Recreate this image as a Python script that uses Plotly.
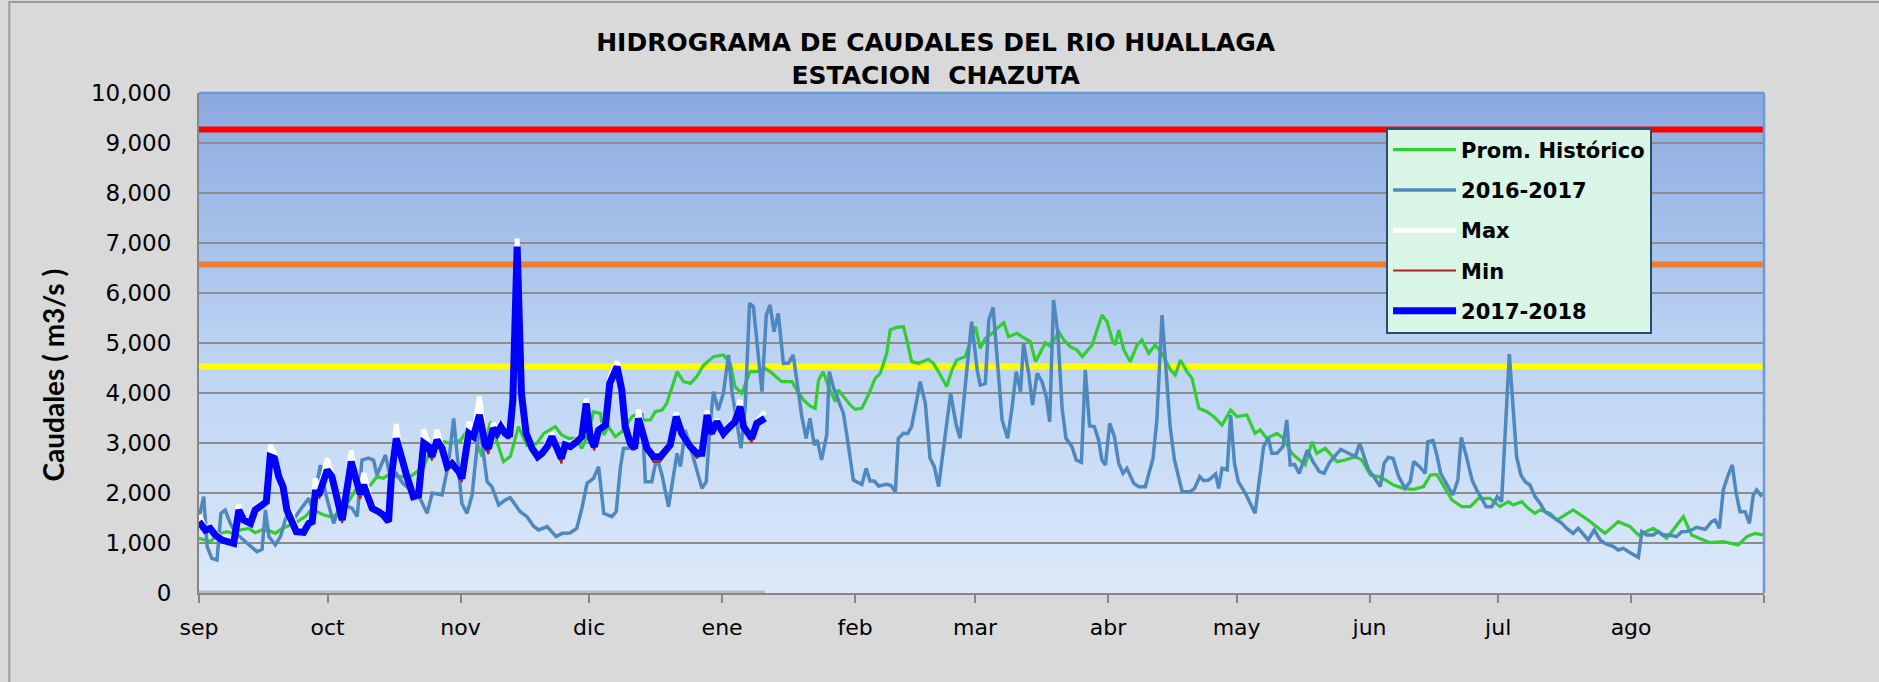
import plotly.graph_objects as go

# ---------------- data ----------------
month_labels = ["sep", "oct", "nov", "dic", "ene", "feb", "mar", "abr", "may", "jun", "jul", "ago", ""]
month_start_day = [0, 30, 61, 91, 122, 153, 181, 212, 242, 273, 303, 334, 365]

threshold_levels = [9270, 6570, 4530]
threshold_colors = ["#FF0000", "#ED7D31", "#FFFF00"]
year_days = [0, 365]

# 2017-2018 (current year)
cur_days = [0, 1.5, 2.6, 3.8, 5.4, 8.1, 9.3, 10.4, 12, 13.1,
            14.7, 15.7, 16.6, 17.6, 18.6, 19.6, 20.5, 21.7, 22.7, 24.4,
            25.6, 26.4, 27.1, 28.1, 29.9, 31, 33.4, 35.5, 36.9, 37.6,
            38.4, 40.4, 41.9, 43, 44.2, 44.9, 46, 47, 48.5, 50,
            51.2, 52.4, 53.6, 54.3, 55.5, 56.7, 57.9, 59, 60.6, 61.3,
            62.9, 64, 65.4, 66.8, 67.5, 68.6, 69.5, 70.4, 71.4, 72.4,
            73.2, 74.2, 75.2, 76.3, 77.7, 79, 80, 81.2, 82.3, 83.5,
            84.5, 85.4, 86.6, 88.1, 89.3, 90.3, 91.3, 92.2, 93.2, 94.8,
            95.8, 97.5, 98.6, 99.4, 100.6, 101.6, 102.5, 103.5, 104.5, 106,
            107.6, 109.9, 111.3, 112.6, 114.6, 116.1, 117.3, 118.5, 119.5, 120.8,
            122.3, 123.5, 125, 126.2, 127, 128.9, 130.1, 132]
cur_vals = [1427, 1260, 1293, 1160, 1060, 993, 1660, 1460, 1393, 1660,
            1760, 1827, 2727, 2693, 2327, 2127, 1660, 1460, 1227, 1213,
            1393, 1427, 2000, 2000, 2460, 2327, 1460, 2627, 2100, 1980,
            2160, 1693, 1627, 1560, 1427, 2360, 3093, 2727, 2327, 1927,
            1960, 3000, 2927, 2727, 3060, 2893, 2527, 2593, 2427, 2293,
            3193, 3127, 3560, 2960, 2893, 3293, 3193, 3327, 3193, 3127,
            3860, 6927, 3993, 3193, 2893, 2727, 2793, 2927, 3127, 2893,
            2693, 2960, 2927, 3027, 3127, 3793, 3093, 2927, 3260, 3360,
            4193, 4527, 4060, 3327, 2993, 2893, 3493, 3193, 2893, 2727,
            2727, 2960, 3527, 3193, 2927, 2793, 2793, 3560, 3193, 3427,
            3193, 3300, 3427, 3727, 3327, 3093, 3393, 3493]
max_vals = [1560, 1300, 1340, 1200, 1100, 1030, 1770, 1500, 1430, 1700,
            1800, 1870, 2960, 2800, 2370, 2170, 1700, 1560, 1270, 1250,
            1430, 1470, 2290, 2040, 2690, 2370, 1500, 2850, 2140, 2020,
            2400, 1730, 1670, 1600, 1470, 2400, 3380, 2770, 2370, 1970,
            2000, 3270, 2970, 2770, 3260, 2930, 2570, 2630, 2470, 2330,
            3430, 3170, 3930, 3000, 2930, 3400, 3230, 3420, 3230, 3170,
            3900, 7090, 4030, 3230, 2930, 2770, 2830, 3000, 3200, 2930,
            2730, 3000, 2970, 3070, 3170, 3890, 3130, 2970, 3300, 3400,
            4300, 4630, 4100, 3370, 3030, 2930, 3670, 3230, 2930, 2770,
            2770, 3000, 3600, 3230, 2970, 2830, 2830, 3650, 3230, 3470,
            3230, 3340, 3470, 3860, 3370, 3130, 3430, 3630]
min_vals = [1400, 1230, 1260, 1130, 1030, 960, 1630, 1430, 1360, 1630,
            1730, 1800, 2700, 2660, 2250, 2050, 1630, 1430, 1200, 1180,
            1360, 1400, 1970, 1900, 2430, 2250, 1400, 2600, 2050, 1880,
            2130, 1660, 1600, 1530, 1400, 2330, 3060, 2700, 2300, 1900,
            1930, 2970, 2900, 2650, 3030, 2860, 2450, 2560, 2400, 2220,
            3160, 3100, 3530, 2900, 2780, 3260, 3160, 3300, 3160, 3100,
            3830, 6900, 3960, 3160, 2860, 2690, 2760, 2900, 3100, 2860,
            2590, 2930, 2900, 3000, 3100, 3760, 3060, 2850, 3230, 3330,
            4160, 4500, 4030, 3300, 2960, 2860, 3460, 3160, 2860, 2620,
            2630, 2930, 3500, 3160, 2900, 2700, 2760, 3530, 3160, 3400,
            3100, 3270, 3400, 3700, 3300, 3010, 3360, 3460]
base_vals = [0] * len(cur_days)

# Prom. Histórico
hist_days = [0, 1.5, 2.6, 5, 6.5, 8.1, 9.6, 11.6, 13.1, 14.7, 16.3, 17.8, 19.4, 21.3, 22.9, 24.8, 26.4,
             27.5, 29.1, 30.6, 32.2, 33.7, 34.9, 36.5, 37.6, 40, 41.5, 43, 44.6, 46.2, 49.3, 52.4, 54,
             57.1, 58.6, 61, 63.3, 66, 68, 71, 72.6, 74.5, 76.5, 78.8, 80.4, 83.1, 84.6, 86.2, 87.8,
             89.3, 90.9, 92, 93.6, 94.4, 95.5, 97.1, 98.6, 101, 102.5, 103.7, 105.3, 106.4, 108, 109.1,
             111.5, 113, 114.6, 116.1, 117.7, 120, 122.3, 123.9, 125, 126.6, 128.5, 130.1, 132, 133.2,
             135.9, 138.3, 139.4, 141, 142.5, 143.7, 144.5, 145.6, 146.8, 148.4, 149.1, 151.9, 153, 154.6,
             156.1, 157.7, 158.9, 160.4, 161.2, 162.7, 164.3, 165.1, 166.2, 167.8, 170.1, 171.3, 172.9,
             174.4, 175.6, 176.7, 178.7, 181.1, 182.2, 183.4, 185, 186.1, 187.7, 188.8, 190.8, 191.9,
             193.9, 195.1, 197.4, 198.6, 200.5, 201.7, 203.2, 204.8, 206, 208.3, 210.6, 211.8, 213, 213.7,
             214.5, 215.7, 217.2, 218.8, 219.9, 221.5, 223, 224.6, 226.6, 227.7, 228.9, 230.4, 231.6,
             233.2, 235.1, 236.7, 238.6, 240.6, 242.1, 244.4, 246.3, 247.5, 249, 251.4, 252.9, 254.9,
             258, 259.6, 260.7, 262.7, 265.4, 267.3, 269.7, 271.2, 273.2, 275.1, 276.7, 278.6, 280.9,
             283.3, 285.6, 287.2, 288.7, 290.3, 292.2, 294.5, 296.5, 298.4, 301.1, 303.4, 305.4, 306.5,
             308.5, 310, 311.6, 312.8, 315.1, 316.7, 320.5, 324, 327.9, 331, 333.8, 335.7, 339.2, 342.3,
             344.6, 346.2, 348.1, 350.1, 352.4, 355.5, 357.1, 359, 361, 362.9, 364.9]
hist_vals = [1093, 1060, 1030, 1193, 1227, 1193, 1260, 1293, 1207, 1260, 1247, 1193, 1290, 1360, 1427, 1527, 1693,
             1627, 1560, 1527, 1560, 1660, 1827, 2060, 2127, 2160, 2327, 2293, 2393, 2327, 2327, 2527, 2860,
             3027, 2993, 3050, 3350, 2727, 3427, 2627, 2727, 3327, 2950, 2993, 3193, 3327, 3160, 3093, 3093,
             2893, 3193, 3627, 3593, 3160, 3327, 3127, 3227, 3527, 3593, 3460, 3460, 3627, 3660, 3793,
             4427, 4227, 4193, 4327, 4560, 4727, 4760, 4593, 4127, 3993, 4427, 4427, 4493, 4427,
             4227, 4227, 4060, 3860, 3740, 3693, 4260, 4427, 4127, 3827, 4060, 3760, 3673, 3693,
             3960, 4293, 4393, 4793, 5260, 5313, 5327, 5060, 4627, 4593, 4673, 4593, 4360,
             4127, 4460, 4660, 4727, 5327, 4893, 5093, 5193, 5293, 5407, 5127, 5193, 5127,
             5027, 4627, 5007, 4927, 5227, 5060, 4927, 4860, 4727, 4960, 5560, 5427, 5060, 4960,
             5260, 4860, 4627, 4960, 5060, 4793, 4960, 4793, 4460, 4360, 4660, 4427, 4293,
             3693, 3627, 3527, 3360, 3660, 3527, 3560, 3193, 3260, 3093, 3193, 3093, 2793,
             2560, 3027, 2793, 2893, 2627, 2660, 2727, 2660, 2360, 2327, 2260, 2160, 2093,
             2073, 2127, 2360, 2373, 2127, 1860, 1727, 1727, 1893, 1893, 1727, 1827, 1760,
             1827, 1693, 1593, 1660, 1593, 1460, 1660, 1460, 1193, 1427, 1327, 1160, 1293, 1093,
             1360, 1527, 1160, 1093, 1007, 1027, 993, 960, 1127, 1193, 1160]

# 2016-2017
prev_days = [0, 1.1, 1.9, 3, 4.2, 5.1, 6.1, 7.3, 8.5, 10.4, 12, 13.5, 14.7, 15.5, 16.3, 17.8, 19, 20.1,
             20.9, 22.2, 23.3, 25.6, 26.4, 28.3, 29.5, 31.4, 33, 34.5, 35.7, 36.9, 38, 39.5, 40.7, 41.5,
             43.5, 44.6, 46, 47.5, 49.5, 51.5, 53.2, 54.4, 56.7, 58.2, 59.4, 61.3, 62.5, 63.7, 65.4, 67.2,
             68.3, 69.9, 71.4, 72.6, 74.9, 76.5, 78, 79.2, 81.2, 83.3, 84.7, 86.5, 88.1, 89.3, 90.5, 92,
             93.2, 94.4, 96.3, 97.3, 98.3, 99, 101, 103.3, 104.1, 105.6, 106.8, 108, 109.5, 111.5, 112.3,
             113.4, 114.5, 115.8, 117.3, 118.3, 119.3, 120, 121.1, 122.3, 123.5, 124.3, 126.4, 127.4,
             128.4, 129.3, 131.3, 132.3, 133.2, 134.1, 135.1, 136.3, 137.5, 138.6, 139.8, 140.6, 141.6,
             142.5, 143.5, 144.2, 145.2, 146.4, 147, 148, 149.1, 150.3, 151.5, 152.6, 154.6, 155.6, 156.5,
             157.5, 158.5, 160.4, 161.4, 162.4, 163.1, 164.3, 165.3, 166.2, 167.4, 168.2, 169.4, 170.5,
             171.5, 172.5, 173.8, 175.3, 176.6, 177.5, 178.7, 180.2, 181.5, 182.2, 183.4, 184.2, 185.2,
             186.2, 187.3, 188.6, 189.6, 190.6, 191.6, 192.3, 193.5, 194.4, 195.5, 196.6, 197.6, 198.4,
             199.3, 200.3, 201.3, 202.2, 203.6, 204.6, 205.8, 206.7, 207.7, 208.8, 209.8, 210.6, 211.4,
             212.4, 213.5, 214.5, 215.5, 216.4, 218, 219.2, 220.7, 222.5, 223.4, 224.6, 225.8, 226.5,
             227.5, 229.3, 231.2, 232.2, 233.4, 234.3, 235.5, 237.1, 237.8, 238.6, 239.8, 240.6, 241.5,
             242.4, 244, 246.3, 248.3, 249.4, 250.2, 251.4, 252.8, 253.7, 254.5, 255.5, 256.6, 258.5,
             259.8, 261.3, 262.4, 263.6, 264.8, 266.3, 268, 269.7, 270.7, 271.8, 272.8, 274, 275.5,
             276.4, 277.4, 278.5, 279.8, 281.3, 282.5, 283.3, 284.7, 286, 286.6, 287.8, 288.7, 289.6,
             291, 292.4, 293.6, 294.4, 295.6, 296.9, 298, 299.2, 300.2, 301.5, 302.8, 303.8, 305.6,
             307.3, 308.3, 309.3, 310.4, 311.6, 312.8, 313.9, 315.1, 316.7, 317.8, 319, 320.5, 321.7,
             323, 324, 325.4, 326.8, 327.9, 329.9, 331, 332.2, 333.4, 335.7, 336.5, 337.6, 339.2, 340.3,
             341.5, 343, 344.6, 345.8, 347, 348.1, 349.3, 351.3, 352.8, 353.6, 354.6, 355.5, 356.6,
             357.6, 358.5, 359.4, 360.6, 361.6, 362.5, 363.3, 364.5]
prev_vals = [1500, 1927, 927, 693, 660, 1593, 1660, 1393, 1200, 1060, 960, 827, 873, 1660, 1127, 960, 1127, 1460,
             1600, 1480, 1627, 1893, 1693, 2560, 2000, 1393, 1800, 1750, 1693, 1527, 2660, 2700, 2660, 2360,
             2760, 2327, 2393, 2200, 2050, 1900, 1593, 2000, 1960, 2593, 3493, 1793, 1593, 1960, 3400, 2227,
             2127, 1760, 1860, 1907, 1627, 1527, 1340, 1260, 1327, 1127, 1193, 1200, 1293, 1693, 2193, 2293,
             2527, 1593, 1527, 1627, 2527, 2893, 2900, 3593, 2227, 2227, 2727, 2350, 1727, 2793, 2527,
             3260, 2950, 2527, 2093, 2227, 3460, 4027, 3660, 3993, 4760, 4027, 2893, 3727,
             5793, 5727, 4027, 5560, 5760, 5227, 5593, 4593, 4600, 4760, 4027, 3527, 3093,
             3493, 2960, 3060, 2660, 3160, 4427, 4100, 3860, 3593, 2927, 2260, 2173, 2493, 2240,
             2240, 2140, 2173, 2150, 2027, 3093, 3193, 3190, 3327, 3860, 4227, 3793, 2693,
             2527, 2127, 3000, 3993, 3360, 3093, 4127, 5427, 4460, 4160, 4193, 5460, 5713,
             4600, 3460, 3093, 3693, 4427, 4027, 4993, 4393, 3760, 4393, 4227, 3927, 3427,
             5860, 5193, 3693, 3093, 2927, 2660, 2613, 4460, 3340, 3330, 3060, 2660, 2560,
             3393, 3127, 2593, 2393, 2493, 2193, 2127, 2127, 2693, 3460, 5560, 4260, 3327,
             2660, 2027, 2027, 2093, 2327, 2247, 2260, 2380, 2093, 2493, 2460, 3560, 2593,
             2227, 2000, 1593, 2927, 3093, 2793, 2793, 2927, 3460, 2560, 2570, 2393, 2860,
             2627, 2427, 2393, 2600, 2727, 2873, 2800, 2727, 2993, 2700, 2460, 2327, 2127,
             2593, 2713, 2690, 2327, 2093, 2227, 2627, 2527, 2393, 3027, 3047, 2760, 2393,
             2193, 1960, 2260, 3113, 2727, 2260, 2060, 1893, 1727, 1727, 1927, 1827, 4780,
             2727, 2360, 2227, 2160, 1927, 1793, 1627, 1560, 1460, 1400, 1293, 1193, 1293,
             1150, 1060, 1260, 1060, 993, 927, 860, 893, 827, 713, 1227, 1160, 1160, 1230,
             1160, 1160, 1127, 1227, 1230, 1260, 1313, 1273, 1427, 1460, 1293, 2060, 2350,
             2560, 2000, 1627, 1627, 1393, 1960, 2060, 1927]

# ---------------- figure ----------------
fig = go.Figure()

for lvl, col in zip(threshold_levels, threshold_colors):
    fig.add_trace(go.Scatter(x=year_days, y=[lvl, lvl], mode="lines",
                             line=dict(color=col, width=6), showlegend=False, hoverinfo="skip"))

fig.add_trace(go.Scatter(x=cur_days, y=base_vals, mode="lines",
                         line=dict(color="#BDBDBD", width=5), showlegend=False, hoverinfo="skip"))

fig.add_trace(go.Scatter(x=hist_days, y=hist_vals, mode="lines", name="Prom. Histórico",
                         line=dict(color="#33CC33", width=3.2), legendgroup="a"))
fig.add_trace(go.Scatter(x=prev_days, y=prev_vals, mode="lines", name="2016-2017",
                         line=dict(color="#4F88BE", width=3.5), legendgroup="b"))
fig.add_trace(go.Scatter(x=cur_days, y=max_vals, mode="lines", name="Max",
                         line=dict(color="#FFFFFF", width=5), legendgroup="c"))
fig.add_trace(go.Scatter(x=cur_days, y=min_vals, mode="lines", name="Min",
                         line=dict(color="#B22222", width=2), legendgroup="d"))
fig.add_trace(go.Scatter(x=cur_days, y=cur_vals, mode="lines", name="2017-2018",
                         line=dict(color="#0000FF", width=7), legendgroup="e"))

# vertical gradient background of plot area
top_c = (139, 169, 223)
mid_c = (186, 210, 243)
bot_c = (221, 233, 250)
n_bands = 50
shapes = []
for i in range(n_bands):
    f = (i + 0.5) / n_bands  # 0 bottom -> 1 top
    if f < 0.5:
        t = f / 0.5
        c = [bot_c[k] + (mid_c[k] - bot_c[k]) * t for k in range(3)]
    else:
        t = (f - 0.5) / 0.5
        c = [mid_c[k] + (top_c[k] - mid_c[k]) * t for k in range(3)]
    shapes.append(dict(type="rect", xref="paper", yref="paper", x0=0, x1=1,
                       y0=i / n_bands, y1=(i + 1) / n_bands, layer="below",
                       line=dict(width=0),
                       fillcolor="rgb(%d,%d,%d)" % tuple(int(round(v)) for v in c)))
# plot-area border (top and right) in blue
shapes.append(dict(type="line", xref="paper", yref="paper", x0=0, x1=1, y0=1, y1=1,
                   line=dict(color="#6A9BD6", width=2.5), layer="above"))
shapes.append(dict(type="line", xref="paper", yref="paper", x0=1, x1=1, y0=0, y1=1,
                   line=dict(color="#6A9BD6", width=2.5), layer="above"))
# outer chart frame
shapes.append(dict(type="rect", xref="paper", yref="paper", x0=-0.1212, x1=1.3, y0=-0.4, y1=1.182,
                   line=dict(color="#9A9A9A", width=2), layer="above"))

fig.update_layout(
    width=1879, height=682,
    paper_bgcolor="#D9D9D9", plot_bgcolor="#DDE9FA",
    margin=dict(l=199, r=115, t=93, b=89, autoexpand=False),
    shapes=shapes,
    title=dict(text="HIDROGRAMA DE CAUDALES DEL RIO HUALLAGA<br>ESTACION  CHAZUTA",
               x=0.4707, xanchor="center", xref="paper", y=1 - 51 / 682, yanchor="middle",
               yref="container",
               font=dict(family="DejaVu Sans", size=25, color="#000000", weight="bold")),
    legend=dict(x=0.7585, y=0.931, xanchor="left", yanchor="top",
                bgcolor="#D8F5E6", bordercolor="#2E4A6B", borderwidth=2,
                font=dict(family="DejaVu Sans", size=21, color="#000000", weight="bold"),
                tracegroupgap=10, itemwidth=63, traceorder="grouped"),
    showlegend=True,
    annotations=[dict(text="Caudales ( m3/s )", x=-0.0935, y=0.4364, xref="paper", yref="paper",
                      textangle=-90, showarrow=False, xanchor="center", yanchor="middle",
                      font=dict(family="Lato", size=28, color="#000000", weight="bold"))],
)

fig.update_xaxes(range=[0, 365], tickvals=month_start_day, ticktext=month_labels,
                 showgrid=False, zeroline=False, showline=True, linecolor="#868686", linewidth=2,
                 ticks="outside", ticklen=8, tickwidth=1.5, tickcolor="#868686",
                 ticklabelstandoff=6,
                 tickfont=dict(family="DejaVu Sans", size=22, color="#000000"))
fig.update_yaxes(range=[0, 10000], tickvals=list(range(0, 10001, 1000)), tickformat=",d",
                 showgrid=True, gridcolor="#8C8C8C", gridwidth=1.5, zeroline=False,
                 showline=True, linecolor="#868686", linewidth=2, ticks="",
                 ticklabelstandoff=21,
                 tickfont=dict(family="DejaVu Sans", size=23, color="#000000"))

fig.write_html("out.html", config={"displayModeBar": False},
               post_script="document.body.style.margin='0';")
